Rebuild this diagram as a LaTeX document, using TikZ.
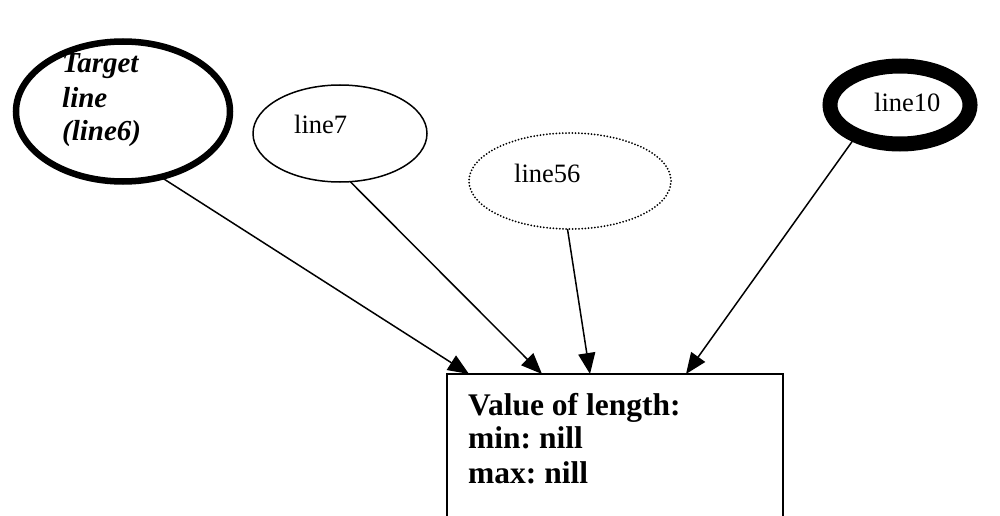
\documentclass[tikz,border=0pt]{standalone}
\usepackage{fontspec}
\setmainfont{Liberation Serif}
\frenchspacing
\usetikzlibrary{arrows.meta,shapes.geometric,calc}
\tikzset{
  ell/.style={ellipse, inner sep=0pt, outer sep=0pt},
  lbl/.style={anchor=base west, inner sep=0pt, font=\fontsize{26.5}{30}\selectfont},
  tlbl/.style={anchor=base west, inner sep=0pt, font=\fontsize{29}{33}\selectfont\bfseries\itshape},
  blbl/.style={anchor=base west, inner sep=0pt, font=\fontsize{31.5}{34}\selectfont\bfseries},
  conn/.style={line width=1.5pt, -{Triangle[length=21pt,width=17pt]}},
}
\begin{document}
\begin{tikzpicture}[x=1pt,y=1pt]
\useasboundingbox (0,0) rectangle (1000,-516);
\clip (0,0) rectangle (1000,-516);
% ellipses
\node[ell, draw, line width=6.5pt, minimum width=214pt, minimum height=140pt] (t) at (123,-111.5) {};
\node[ell, draw, line width=1.5pt, minimum width=174pt, minimum height=97pt] (l7) at (340,-133.5) {};
\node[ell, draw, line width=2pt, dash pattern=on 0pt off 3.2pt, line cap=round, minimum width=202pt, minimum height=96pt] (l56) at (570,-181) {};
\node[ell, draw, line width=15pt, minimum width=140pt, minimum height=78pt] (l10) at (900,-105) {};
% labels
\node[tlbl] (tt1) at (62,-73) {Target};
\node[tlbl] (tt2) at (62,-107) {line};
\node[tlbl] (tt3) at (62,-140) {(line6)};
\node[lbl] (t7) at (294,-133) {line7};
\node[lbl] (t56) at (514,-182) {line56};
\node[lbl] (t10) at (874,-112) {line10};
% box
\node[draw, line width=2pt, anchor=north west, minimum width=336pt, minimum height=200pt, inner sep=0pt] (box) at (446,-373) {};
\node[blbl] (b1) at (468,-415) {Value of length:};
\node[blbl] (b2) at (468,-448) {min: nill};
\node[blbl] (b3) at (468,-483) {max: nill};
% tips
\coordinate (p1) at ($(box.north west)+(23,-1)$);
\coordinate (p2) at ($(box.north west)+(96,-1)$);
\coordinate (p3) at ($(box.north west)+(144,-1)$);
\coordinate (p4) at ($(box.north west)+(240,-1)$);
% connectors
\draw[conn] (t.-60) -- (p1);
\draw[conn] (l7.-78) -- (p2);
\draw[conn] (l56.-93.5) -- (p3);
\draw[conn] (l10.215) -- (p4);
\end{tikzpicture}
\end{document}
